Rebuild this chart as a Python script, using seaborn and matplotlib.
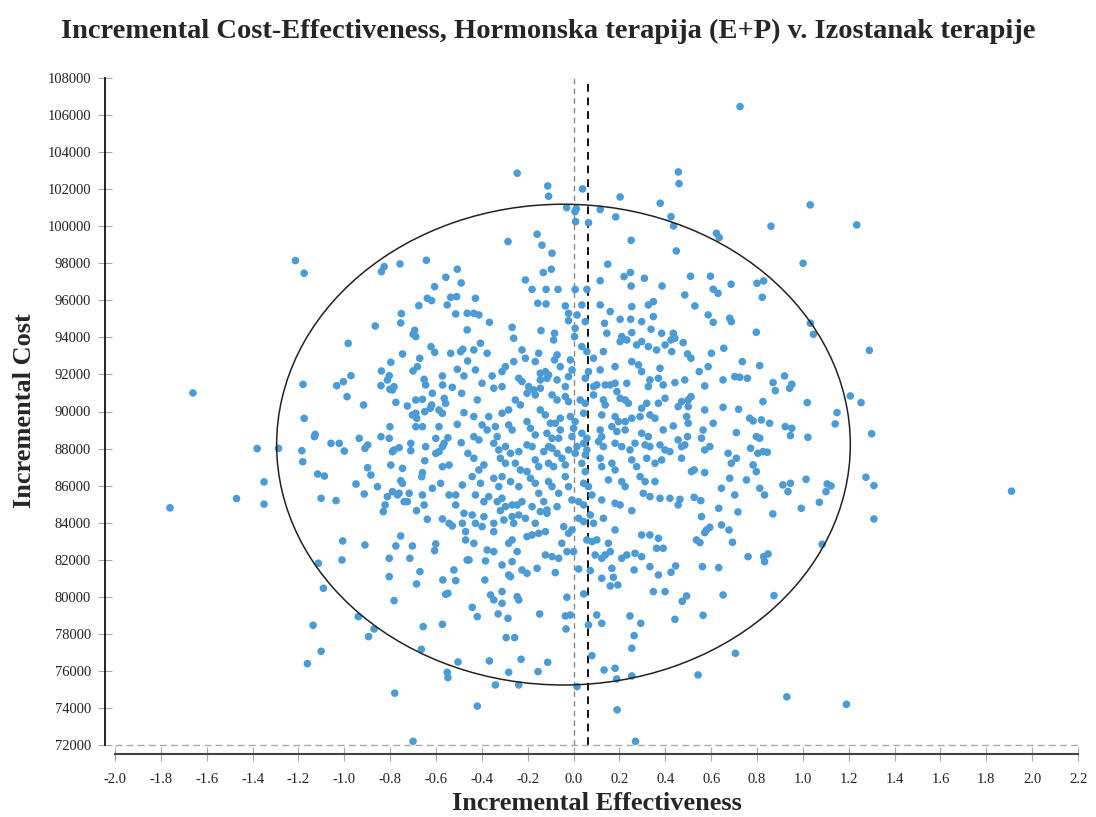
import numpy as np
import pandas as pd
import matplotlib
matplotlib.use("Agg")
import matplotlib.pyplot as plt
from matplotlib.patches import Ellipse
import seaborn as sns

# ---------------- data (incremental effectiveness, incremental cost) ----------------
upper_pts = [
    (-1.213,98146),(-1.175,97462),(-0.826,97820),(-0.838,97550),(-0.757,97964),(-0.642,98164),(-0.507,97679),(-0.557,97246),(-0.490,96940),(-0.606,96740),
    (-0.246,102860),(-0.113,102175),(-0.109,101620),(0.039,102013),(0.203,101580),(0.378,101240),(-0.030,101005),(0.012,100950),(0.006,100787),(0.116,100900),
    (0.184,100500),(0.009,100250),(0.065,100190),(-0.159,99570),(0.251,99240),(-0.286,99170),(-0.138,98976),(-0.094,98544),(0.149,97950),(-0.097,97680),
    (-0.132,97500),(0.248,97500),(0.220,97280),(0.309,97190),(-0.210,97100),(0.116,97060),(0.251,96776),(0.386,96776),(-0.181,96590),(-0.120,96590),
    (-0.068,96590),(0.007,96590),(0.058,96590),
    (0.726,106456),(0.457,102930),(0.460,102300),(1.032,101150),(1.235,100070),(0.861,100000),(0.425,100518),(0.436,100016),(0.623,99622),(0.635,99385),
    (0.448,98666),(1.001,98000),(0.510,97300),(0.597,97300),(0.687,96868),(0.800,96920),(0.829,97047),(0.609,96600),
]

left_mid_pts = [
    (-0.638,96111),(-0.619,95985),(-0.675,95715),(-0.536,96165),(-0.510,96201),(-0.551,95751),(-0.751,95283),(-0.514,95265),(-0.464,95301),(-0.754,94779),
    (-0.865,94617),(-0.693,94383),(-0.700,94167),(-0.688,94041),(-0.464,94401),(-0.983,93681),(-0.622,93501),(-0.606,93195),(-0.746,93105),(-0.536,93141),
    (-0.493,93231),(-0.483,93357),(-0.671,92871),(-0.681,92421),(-0.797,92655),(-0.462,92727),(-0.838,92187),(-0.700,92187),(-0.507,92277),(-0.971,91935),
    (-1.004,91611),(-1.033,91395),(-1.180,91467),(-0.804,91935),(-0.812,91701),(-0.840,91395),(-0.652,91737),(-0.645,91431),(-0.572,91917),(-0.478,91917),
    (-0.783,91341),(-0.790,91161),(-0.801,91197),(-0.571,91431),(-0.529,91305),(-0.616,90981),(-0.488,90981),(-0.988,90801),(-0.775,90495),(-0.688,90621),
    (-0.659,90657),(-0.564,90711),(-0.558,90441),(-0.916,90351),(-0.725,90297),(-0.619,90351),(-0.625,90171),(-0.587,90081),(-0.572,89901),(-0.478,89937),
    (-0.688,89901),(-0.703,89811),(-0.684,89631),(-0.649,89991),(-1.175,89631),(-0.688,89181),(-0.659,89181),(-0.801,89181),(-0.587,89181),(-0.507,89307),
    (-1.127,88767),(-1.130,88641),(-0.935,88551),(-0.840,88641),(-0.804,88551),(-0.601,88551),(-0.548,88587),(-0.565,88281),(-0.572,88101),(-0.587,87831),
    (-0.601,87741),(-1.058,88281),(-1.022,88281),(-1.000,87867),(-0.898,88191),(-0.910,88011),(-0.761,88047),(-0.783,87921),(-0.790,87831),(-0.710,88281),
    (-0.710,87885),(-0.645,88101),(-0.490,88317),(-1.287,88011),(-1.185,87885),(-1.181,87291),(-0.649,87345),(-0.572,87021),(-0.543,87111),(-0.461,87741),
    (-0.797,87111),(-0.746,86931),(-0.898,86967),(-1.116,86625),(-1.087,86517),(-0.884,86571),(-0.659,86697),(-0.662,86481),(-0.754,86265),(-0.746,86121),
    (-0.949,86085),(-0.580,86121),(-0.485,86031),(-0.616,85851),(-0.855,85941),
]

center_mid_pts = [
    (-0.156,95841),(-0.120,95805),(-0.036,95697),(0.036,95751),(0.116,95751),(0.254,95661),(0.326,95751),(0.348,95931),(-0.428,96111),
    (-0.435,95301),(-0.413,95211),(-0.367,94815),(-0.022,95301),(0.015,95211),(-0.022,94905),(0.051,94851),(0.160,95391),(0.203,94977),(0.249,94977),(0.297,94851),(0.348,95121),(0.135,94761),
    (-0.268,94546),(-0.142,94366),(-0.083,94222),(-0.087,93863),(-0.261,93953),(0.007,94492),(0.004,94042),(0.145,94222),(0.210,94042),(0.254,94258),(0.338,94438),(0.384,94222),
    (-0.406,93683),(-0.435,93323),(-0.377,93143),(-0.225,93323),(-0.152,93143),(-0.072,93053),(-0.083,92783),(-0.014,92783),(0.036,93503),(0.058,93233),(0.130,93233),(0.203,93773),(0.232,93863),(0.275,93593),(0.297,93773),(0.326,93503),(0.362,93323),(0.399,93593),(0.087,92873),
    (-0.297,92423),(-0.312,92153),(-0.261,92693),(-0.210,92873),(-0.167,92693),(-0.145,92063),(-0.123,92153),(-0.109,91973),(-0.058,92423),(-0.007,92243),(0.065,92153),(0.051,91794),(0.116,92243),(0.181,92423),(0.254,92693),(0.283,92513),(0.297,92153),(0.377,92333),(-0.428,92243),
    (-0.399,91524),(-0.355,91920),(-0.348,91254),(-0.312,91344),(-0.239,91794),(-0.225,91614),(-0.196,91344),(-0.174,91164),(-0.145,91254),(-0.145,91704),(-0.116,91794),(-0.072,91704),(-0.022,91884),(-0.036,91344),(0.101,91434),(0.087,91344),(0.138,91434),(0.160,91434),(0.181,91524),(0.232,91524),(0.333,91704),(0.326,91344),(0.370,91794),(0.391,91434),
    (-0.420,90624),(-0.254,90624),(-0.232,90354),(-0.203,90984),(-0.167,90894),(-0.094,90894),(-0.072,90624),(-0.036,90804),(-0.022,90534),(0.029,90624),(0.051,90444),(0.087,90894),(0.130,90624),(0.138,90354),(0.203,90714),(0.225,90624),(0.239,90444),(0.297,90174),(0.319,90444),(0.370,90444),(0.399,90714),(0.189,91074),
    (-0.435,89725),(-0.370,89725),(-0.312,89905),(-0.283,90085),(-0.203,89455),(-0.145,90085),(-0.123,89815),(-0.101,89365),(-0.058,89635),(-0.080,89365),(-0.014,89725),(0.007,89455),(0.044,89905),(0.123,89815),(0.181,89725),(0.196,89455),(0.225,89455),(0.254,89635),(0.290,89725),(0.333,89815),(0.355,89635),
    (-0.399,89275),(-0.377,89005),(-0.341,89185),(-0.333,88645),(-0.283,89275),(-0.268,89005),(-0.435,88645),(-0.413,88465),(-0.188,89095),(-0.167,88735),(-0.116,88825),(-0.094,88555),(-0.058,89005),(-0.065,88555),(0.000,89095),(-0.007,88645),(0.036,88825),(0.058,88555),(0.044,88285),(0.116,89005),(0.123,88645),(0.167,89185),(0.189,88915),(0.225,89005),(0.297,88825),(0.326,88645),(0.391,89005),
    (-0.348,88285),(-0.326,87926),(-0.297,88106),(-0.275,87746),(-0.203,88196),(-0.181,88106),(-0.239,87836),(-0.130,87836),(-0.109,88106),(-0.094,88016),(-0.072,87746),(-0.022,87926),(0.015,88106),(0.007,87746),(0.058,87926),(0.051,87656),(0.109,88376),(0.130,88106),(0.181,88286),(0.210,88106),(0.246,87926),(0.268,88286),(0.312,88196),(0.333,88106),(0.377,88196),(0.399,87926),
    (-0.435,87476),(-0.413,86846),(-0.391,87116),(-0.319,87476),(-0.297,87206),(-0.254,87206),(-0.232,86846),(-0.203,86756),(-0.167,87386),(-0.152,87026),(-0.109,87206),(-0.087,87026),(-0.051,87476),(-0.036,87116),(0.036,87206),(0.051,86756),(0.116,87476),(0.123,87026),(0.167,87206),(0.181,86846),(0.254,87386),(0.275,87026),(0.319,87476),(0.355,87206),(0.384,87386),
    (-0.442,86486),(-0.406,86126),(-0.348,86396),(-0.312,86486),(-0.326,85946),(-0.275,86216),(-0.239,85946),(-0.188,86396),(-0.167,86126),(-0.109,86216),(-0.094,85946),(-0.036,86486),(-0.022,85946),(0.044,86126),(0.065,85946),(0.152,86306),(0.210,86216),(0.225,85946),(0.290,86486),(0.312,86216),(0.355,86216),
]

right_mid_pts = [
    (0.485,96291),(0.630,96381),(0.823,96165),(0.529,95697),(0.587,95212),(0.609,94816),(0.681,95032),(0.688,94852),(0.797,94276),(1.033,94762),
    (1.046,94168),(0.435,94222),(0.442,93953),(0.425,93863),(0.478,93719),(0.428,93233),(0.497,93107),(0.512,92873),(0.601,93143),(0.655,93413),
    (0.587,92423),(0.548,92153),(0.736,92693),(0.812,92477),(0.442,91560),(0.485,91704),(0.652,91704),(0.703,91884),(0.725,91848),(0.758,91794),
    (0.572,91380),(0.870,91560),(0.920,91920),(0.952,91470),(0.942,91254),(0.880,91128),(0.512,90804),(0.500,90624),(0.471,90534),(0.456,90264),
    (0.500,90264),(0.826,90534),(1.019,90480),(1.207,90840),(1.254,90480),(0.572,90085),(0.652,90228),(0.720,90120),(1.149,89941),(0.493,89725),
    (0.500,89365),(0.435,89221),(0.768,89635),(0.783,89491),(0.819,89545),(0.855,89365),(0.609,89365),(0.923,89185),(0.952,89095),(0.946,88700),
    (1.141,89329),(1.022,88610),(0.565,88999),(0.558,88556),(0.710,88862),(0.797,88646),(0.812,88556),(0.497,88646),(0.456,88466),(0.471,88106),
    (0.485,88196),(0.594,88106),(0.572,87926),(0.772,88016),(0.804,87746),(0.826,87836),(0.845,87800),(0.674,87746),(0.420,87836),(0.471,87476),
    (0.710,87476),(0.688,87206),(0.783,87116),(0.797,86756),(0.526,86846),(0.514,86756),(0.572,86703),(0.681,86396),(0.754,86307),(1.014,86343),
    (0.913,86037),(0.946,86127),(1.106,86091),(1.123,85983),(1.275,86451),(0.645,85857),(0.812,85857),
]

left_low_pts = [
    (-1.101,85315),(-1.036,85189),(-0.913,85549),(-0.812,85405),(-0.790,85675),(-0.761,85585),(-0.768,85495),(-0.717,85585),(-0.659,85495),(-0.543,85495),
    (-0.514,85495),(-0.822,84955),(-0.830,84595),(-0.739,85135),(-0.725,85135),(-0.652,84955),(-0.685,84650),(-0.514,84955),(-0.638,84182),(-0.572,84200),
    (-0.543,83966),(-0.529,83822),(-0.478,84505),(-0.485,83966),(-0.471,83516),(-1.007,83013),(-0.910,82797),(-0.754,83282),(-0.775,82743),(-0.703,82743),
    (-0.601,82851),(-0.606,82491),(-0.471,83067),(-1.113,81807),(-1.010,81987),(-0.804,82077),(-0.714,82077),(-0.670,81357),(-0.522,81447),(-0.804,81088),
    (-0.570,80908),(-0.514,80872),(-0.685,80692),(-0.464,81987),(-1.091,80458),(-0.558,80134),(-0.548,80188),(-0.783,79792),(-0.939,78929),(-1.136,78461),
    (-0.870,78263),(-0.894,77849),(-0.656,78389),(-0.572,78515),(-1.101,77058),(-1.161,76392),(-0.664,77166),(-0.504,76482),(-0.551,75924),(-0.548,75637),
]

center_low_pts = [
    (-0.428,85495),(-0.391,85135),(-0.370,85405),(-0.333,85135),(-0.312,85315),(-0.297,84865),(-0.319,84649),(-0.268,84955),(-0.246,84955),(-0.225,85135),
    (-0.181,84865),(-0.152,85585),(-0.130,85135),(-0.116,84685),(-0.072,84865),(-0.065,85585),(-0.007,85225),(0.022,85135),(0.044,84955),(0.080,85495),
    (0.123,85225),(0.181,85045),(0.203,84955),(0.254,84649),(0.304,85585),(0.333,85405),(0.377,85315),
    (-0.442,84415),(-0.391,84325),(-0.428,83966),(-0.399,83786),(-0.348,83966),(-0.348,83516),(-0.304,84146),(-0.261,83966),(-0.268,84326),(-0.239,84415),
    (-0.210,84236),(-0.167,83966),(-0.145,84595),(-0.116,84505),(-0.043,83786),(-0.022,83426),(-0.007,83606),(0.022,84236),(0.044,84056),(0.073,84415),
    (0.087,83966),(0.130,84236),(0.181,83606),(0.297,83336),(0.333,83336),(0.370,83157),(0.391,82617),(0.362,82617),
    (-0.435,82887),(-0.377,82527),(-0.348,82437),(-0.283,82887),(-0.268,83067),(-0.246,82437),(-0.203,83247),(-0.181,83336),(-0.152,83426),(-0.123,83516),
    (-0.051,82887),(-0.029,82437),(0.000,82437),(0.058,83067),(0.080,82977),(0.101,83067),(0.094,82257),(0.123,82077),(0.138,82257),(0.152,82887),
    (0.160,82437),(0.232,82257),(0.210,82077),(0.268,82347),(0.297,82167),
    (-0.456,81987),(-0.384,81933),(-0.312,81717),(-0.268,81897),(-0.225,81447),(-0.203,81268),(-0.159,81537),(-0.123,82257),(-0.080,81304),(-0.094,82167),
    (-0.065,82077),(0.022,81501),(0.073,81411),(0.167,81537),(0.174,81052),(0.123,80997),(0.160,80584),(0.193,80638),(0.264,81447),(0.333,81627),
    (0.370,81178),(0.348,80278),(0.399,80278),
    (-0.387,80908),(-0.283,81178),(-0.275,81088),(-0.362,80098),(-0.348,79828),(-0.312,80278),(-0.246,80008),(-0.239,79828),(-0.312,79648),(-0.442,79432),
    (-0.420,78929),(-0.329,79073),(-0.286,78839),(-0.148,79073),(-0.029,79972),(-0.036,78965),(-0.014,79019),(-0.033,78263),(0.044,80152),(0.065,78479),
    (0.101,79019),(0.123,78569),(0.246,78965),(0.293,78569),(-0.294,77795),(-0.257,77795),(0.264,77903),(0.254,77220),(-0.367,76536),(-0.229,76626),
    (-0.113,76464),(-0.283,75925),(-0.155,75961),(0.080,76824),(0.133,76050),(0.181,76140),(0.254,75727),(0.188,75565),(-0.341,75241),(-0.239,75241),
    (0.015,75151),
]

right_low_pts = [
    (0.420,85315),(0.464,85261),(0.456,84955),(0.526,85369),(0.555,85189),(0.703,85495),(0.833,85495),(0.935,85675),(1.101,85675),(1.072,85099),
    (0.633,84775),(0.717,84578),(0.869,84470),(0.993,84775),(0.558,84326),(0.645,83876),(0.678,83606),(0.594,83750),(0.572,83462),(0.580,83606),
    (0.536,83067),(0.551,82923),(0.693,82941),(1.084,82833),(0.761,82167),(0.829,82167),(0.848,82311),(0.833,81897),(0.445,81663),(0.425,81322),
    (0.562,81627),(0.633,81573),(0.652,80098),(0.874,80062),(0.493,80044),(0.474,79756),(0.442,78785),(0.565,79001),(0.706,76950),(0.543,75781),
]

outlier_pts = [
    (-1.66,91000),(-1.76,84800),(-1.47,85300),(-1.38,88000),(-1.35,86200),(-1.35,85000),
    (1.29,93300),(1.30,88800),(1.31,86000),(1.31,84200),(1.91,85700),
    (-0.70,72200),(0.27,72200),(0.19,73900),(-0.42,74100),(-0.78,74800),(0.93,74600),(1.19,74200),
]

# confidence ellipse (center / half-axes) and reference lines
ellipse_center = (-0.044, 88213)
ellipse_half_width = 1.251
ellipse_half_height = 12974
zero_effect = 0.0
mean_effect = 0.062
mean_line_top = 107800

x_ticks = [round(v, 1) for v in np.arange(-2.0, 2.21, 0.2)]
y_ticks = list(range(72000, 108001, 2000))

title = "Incremental Cost-Effectiveness, Hormonska terapija (E+P) v. Izostanak terapije"
x_label = "Incremental Effectiveness"
y_label = "Incremental Cost"

# ---------------- plotting ----------------
all_pts = (upper_pts + left_mid_pts + center_mid_pts + right_mid_pts +
           left_low_pts + center_low_pts + right_low_pts + outlier_pts)
df = pd.DataFrame(all_pts, columns=["effect", "cost"])

sns.set_theme(style="white")
plt.rcParams["font.family"] = ["Liberation Serif", "DejaVu Serif"]

W, H = 1096, 817
fig = plt.figure(figsize=(W / 100, H / 100), dpi=100)
ax = fig.add_axes([115 / W, (H - 745) / H, (1078 - 115) / W, (745 - 78) / H])

sns.scatterplot(data=df, x="effect", y="cost", ax=ax, color="#4a9bd6",
                s=30, edgecolor="none", linewidth=0, zorder=3, legend=False)

ell = Ellipse(ellipse_center, 2 * ellipse_half_width, 2 * ellipse_half_height,
              fill=False, edgecolor="#222222", linewidth=1.1, zorder=4)
ax.add_patch(ell)

ax.plot([zero_effect, zero_effect], [y_ticks[0], y_ticks[-1]], color="#888888",
        linestyle=(0, (4, 3)), linewidth=1.0, zorder=2, clip_on=False)
ax.plot([mean_effect, mean_effect], [y_ticks[0], mean_line_top], color="#111111",
        linestyle=(0, (4, 3)), linewidth=1.4, zorder=2, clip_on=False)
ax.plot([x_ticks[0], x_ticks[-1]], [y_ticks[0], y_ticks[0]], color="#aaaaaa",
        linestyle=(0, (5, 3)), linewidth=1.0, zorder=2, clip_on=False)

ax.set_xlim(x_ticks[0], x_ticks[-1])
ax.set_ylim(y_ticks[0], y_ticks[-1])
ax.set_xticks(x_ticks)
ax.set_xticklabels([f"{v:.1f}" if abs(v) > 1e-9 else "0.0" for v in x_ticks])
ax.set_yticks(y_ticks)
ax.set_yticklabels([str(v) for v in y_ticks])

for sp in ["top", "right"]:
    ax.spines[sp].set_visible(False)
ax.spines["left"].set_position(("outward", 7.2))
ax.spines["bottom"].set_position(("outward", 6.5))
ax.spines["left"].set_color("#111111")
ax.spines["left"].set_linewidth(1.3)
ax.spines["bottom"].set_color("#444444")
ax.spines["bottom"].set_linewidth(1.5)

ax.tick_params(axis="both", which="major", direction="inout", length=10,
               width=0.8, color="#aaaaaa", labelsize=10.5, labelcolor="#222222",
               left=True, bottom=True)
ax.tick_params(axis="y", pad=5)
ax.tick_params(axis="x", pad=8.5)

ax.set_xlabel(x_label, fontsize=19, fontweight="bold")
ax.set_ylabel(y_label, fontsize=19, fontweight="bold")
ax.xaxis.label.set_va("center")
ax.yaxis.label.set_va("center")
ax.xaxis.set_label_coords((597 - 115) / (1078 - 115), -(803 - 745) / (745 - 78))
ax.yaxis.set_label_coords(-(115 - 25) / (1078 - 115), (745 - 411) / (745 - 78))

fig.suptitle(title, fontsize=20.5, fontweight="bold", x=548 / W, y=(H - 31) / H,
             va="center")

fig.savefig("out.png", dpi=100, facecolor="white")
